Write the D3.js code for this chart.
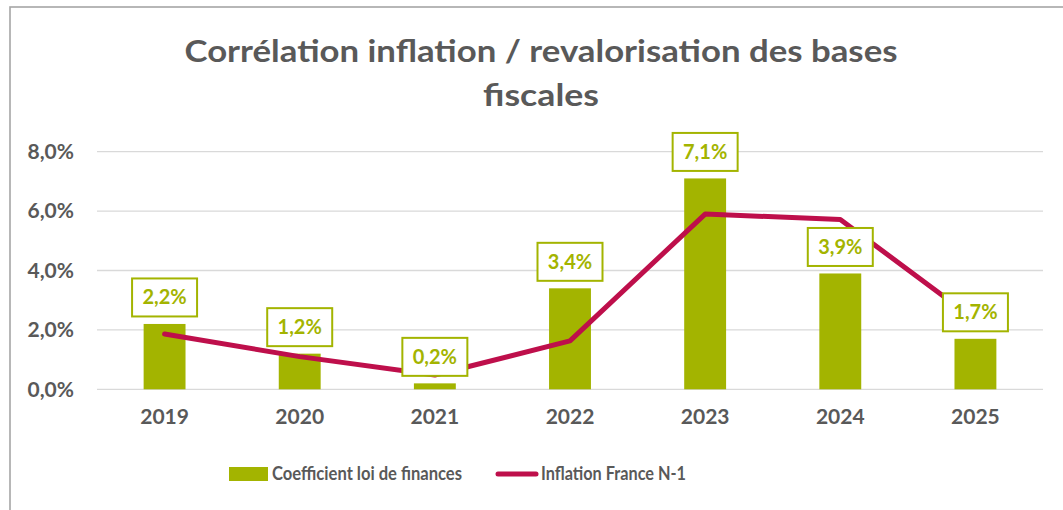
<!DOCTYPE html>
<html>
<head>
<meta charset="utf-8">
<script src="https://cdn.jsdelivr.net/npm/d3@7"></script>
<style>
  body { margin: 0; background: #fff; }
  svg { display: block; font-family: Lato, "Open Sans", sans-serif; }
</style>
</head>
<body>
<div id="chart"></div>
<script>
// data
const years = ["2019", "2020", "2021", "2022", "2023", "2024", "2025"];
const coefficient = [0.022, 0.012, 0.002, 0.034, 0.071, 0.039, 0.017];
const inflation = [0.0186, 0.011, 0.0048, 0.0163, 0.059, 0.0572, 0.0233];
const yTicks = [0, 0.02, 0.04, 0.06, 0.08];
const titleLines = ["Corrélation inflation / revalorisation des bases", "fiscales"];
const seriesNames = ["Coefficient loi de finances", "Inflation France N-1"];

const width = 1063, height = 510;
const green = "#A3B400", red = "#BE0F4B", grey = "#595959";

const svg = d3.select("#chart").append("svg")
    .attr("width", width)
    .attr("height", height);

// chart frame (runs off the right and bottom edges)
svg.append("rect")
    .attr("x", 10).attr("y", 7)
    .attr("width", 1100).attr("height", 600)
    .attr("fill", "none")
    .attr("stroke", "#A6A6A6")
    .attr("stroke-width", 1.6);

// title
const titleWidths = [713, 116];
svg.append("g").selectAll("text")
    .data(titleLines)
    .join("text")
    .attr("x", 541)
    .attr("y", (d, i) => 62 + i * 44)
    .attr("text-anchor", "middle")
    .attr("fill", grey)
    .attr("textLength", (d, i) => titleWidths[i])
    .attr("lengthAdjust", "spacingAndGlyphs")
    .style("font-size", "31px")
    .style("font-weight", "bold")
    .text(d => d);

const x = d3.scaleBand()
    .domain(years)
    .range([97, 1043])
    .paddingInner(0.69)
    .paddingOuter(0.345);

const y = d3.scaleLinear()
    .domain([0, 0.08])
    .range([389.3, 151.7]);

const fmt = v => d3.format(".1f")(v * 100).replace(".", ",") + "%";

// gridlines
svg.append("g").selectAll("line")
    .data(yTicks)
    .join("line")
    .attr("x1", 97).attr("x2", 1043)
    .attr("y1", d => y(d)).attr("y2", d => y(d))
    .attr("stroke", "#D9D9D9")
    .attr("stroke-width", 1.3);

// y axis labels
const yAxis = svg.append("g")
    .attr("transform", "translate(84,0)")
    .call(d3.axisLeft(y).tickValues(yTicks).tickFormat(fmt).tickSize(0).tickPadding(10));
yAxis.select(".domain").remove();
yAxis.selectAll("text")
    .attr("fill", grey)
    .style("font-family", "Lato, sans-serif")
    .style("font-size", "21px")
    .style("font-weight", "bold");

// x axis labels
const xAxis = svg.append("g")
    .attr("transform", "translate(0,389.3)")
    .call(d3.axisBottom(x).tickSize(0).tickPadding(20));
xAxis.select(".domain").remove();
xAxis.selectAll("text")
    .attr("fill", grey)
    .style("font-family", "Lato, sans-serif")
    .style("font-size", "21px")
    .style("font-weight", "bold");

// bars
svg.append("g").selectAll("rect")
    .data(years)
    .join("rect")
    .attr("x", d => x(d))
    .attr("width", x.bandwidth())
    .attr("y", (d, i) => y(coefficient[i]))
    .attr("height", (d, i) => y(0) - y(coefficient[i]))
    .attr("fill", green);

// inflation line
const line = d3.line()
    .x((d, i) => x(years[i]) + x.bandwidth() / 2)
    .y(d => y(d));

svg.append("path")
    .datum(inflation)
    .attr("d", line)
    .attr("fill", "none")
    .attr("stroke", red)
    .attr("stroke-width", 5)
    .attr("stroke-linejoin", "round")
    .attr("stroke-linecap", "round");

// data labels in boxes
const boxW = 65, boxH = 38;
const labels = svg.append("g").selectAll("g")
    .data(years)
    .join("g")
    .attr("transform", (d, i) => "translate(" + (x(d) + x.bandwidth() / 2) + "," + (y(coefficient[i]) - 7.5 - boxH / 2) + ")");

labels.append("rect")
    .attr("x", -boxW / 2).attr("y", -boxH / 2)
    .attr("width", boxW).attr("height", boxH)
    .attr("fill", "#fff")
    .attr("stroke", green)
    .attr("stroke-width", 2);

labels.append("text")
    .attr("text-anchor", "middle")
    .attr("y", 7)
    .attr("fill", green)
    .style("font-size", "20px")
    .style("font-weight", "bold")
    .text((d, i) => fmt(coefficient[i]));

// legend
const legend = svg.append("g");
legend.append("rect")
    .attr("x", 229).attr("y", 467)
    .attr("width", 39).attr("height", 14)
    .attr("fill", green);
legend.append("text")
    .attr("x", 272).attr("y", 480)
    .attr("fill", grey)
    .attr("textLength", 190)
    .attr("lengthAdjust", "spacingAndGlyphs")
    .style("font-size", "18px")
    .style("font-weight", "bold")
    .text(seriesNames[0]);
legend.append("line")
    .attr("x1", 498).attr("x2", 536)
    .attr("y1", 474).attr("y2", 474)
    .attr("stroke", red)
    .attr("stroke-width", 5)
    .attr("stroke-linecap", "round");
legend.append("text")
    .attr("x", 541).attr("y", 480)
    .attr("fill", grey)
    .attr("textLength", 145)
    .attr("lengthAdjust", "spacingAndGlyphs")
    .style("font-size", "18px")
    .style("font-weight", "bold")
    .text(seriesNames[1]);
</script>
</body>
</html>
